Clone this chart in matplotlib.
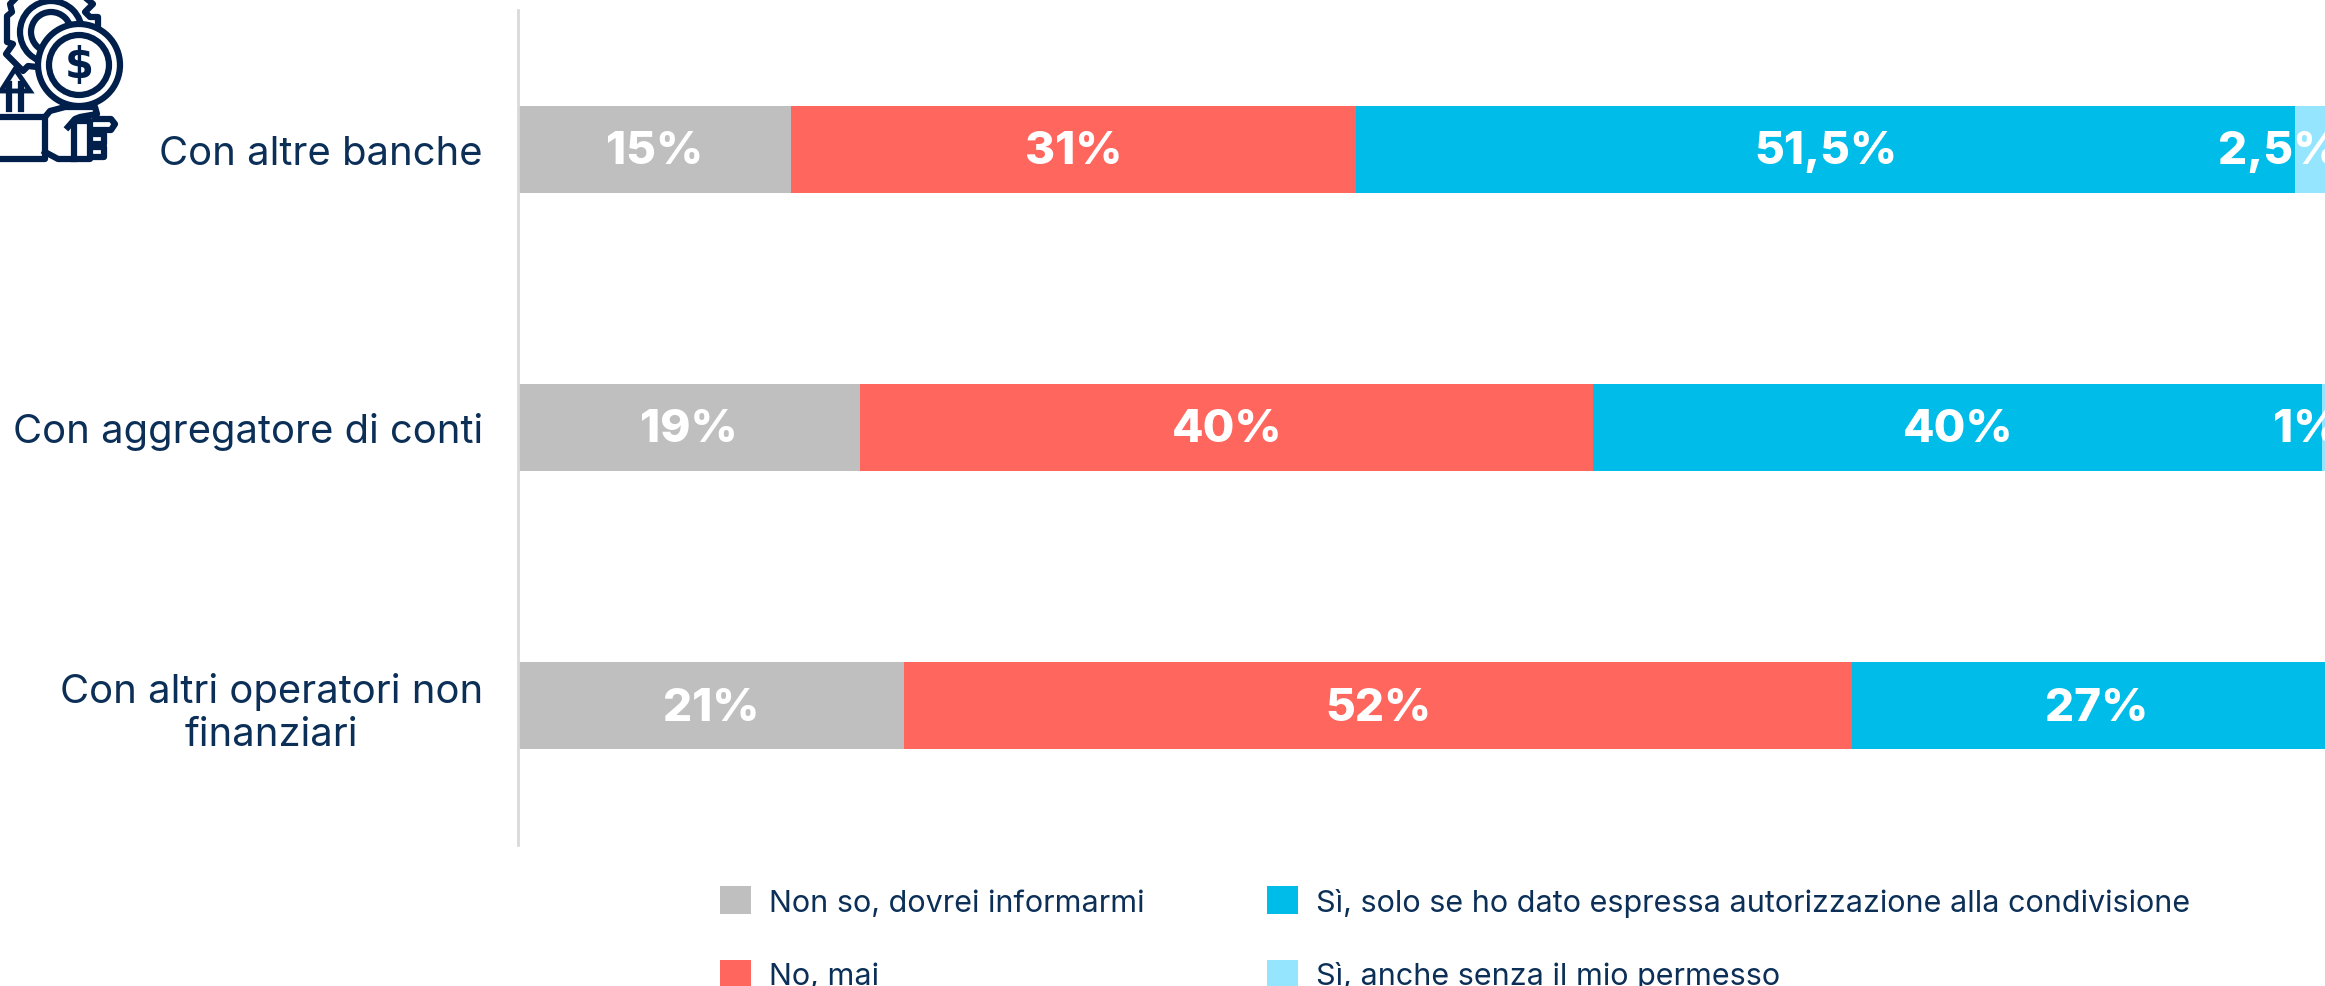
import matplotlib
matplotlib.use('Agg')
import matplotlib.pyplot as plt
from matplotlib.patches import Circle, Polygon

plt.rcParams['font.family'] = ['Inter', 'DejaVu Sans']

# Data
categories = ['Con altre banche', 'Con aggregatore di conti', 'Con altri operatori non\nfinanziari']
series_names = ['Non so, dovrei informarmi', 'No, mai',
                'Sì, solo se ho dato espressa autorizzazione alla condivisione',
                'Sì, anche senza il mio permesso']
non_so = [15, 18.8, 21.2]
no_mai = [31, 40.2, 52]
si_auth = [51.5, 40, 26.8]
si_senza = [2.5, 1, 0]
labels = [['15%', '31%', '51,5%', '2,5%'],
          ['19%', '40%', '40%', '1%'],
          ['21%', '52%', '27%', '']]
colors = ['#BFBFBF', '#FF665E', '#00BCE8', '#96E5FF']

navy = '#0B2F57'
icon_col = '#001F4B'
W, H = 2325, 987

fig = plt.figure(figsize=(W / 100, H / 100), dpi=100)
ax = fig.add_axes([517.5 / W, 1 - 846 / H, (W - 517.5) / W, (846 - 11) / H])

# Stacked bars, the last part runs off the right edge as in the original
left = [0, 0, 0]
handles = []
for name, vals, col in zip(series_names, [non_so, no_mai, si_auth, si_senza], colors):
    h = ax.barh(range(3), vals, left=left, height=0.312, color=col, label=name)
    handles.append(h)
    left = [a + b for a, b in zip(left, vals)]

starts = [0, 0, 0]
for j, vals in enumerate([non_so, no_mai, si_auth, si_senza]):
    for i, v in enumerate(vals):
        if labels[i][j]:
            if j == 3:
                ax.text(100, i - 0.01, labels[i][j], ha='right', va='center_baseline', color='white',
                        fontsize=33, fontweight='heavy', clip_on=True)
            else:
                ax.text(starts[i] + v / 2, i - 0.01, labels[i][j], ha='center', va='center_baseline',
                        color='white', fontsize=33, fontweight='heavy')
        starts[i] += v

ax.set_xlim(0, 99.15)
ax.set_ylim(2.5, -0.5)
ax.set_xticks([])
ax.set_yticks(range(3))
ax.set_yticklabels(categories, fontsize=28.8, color=navy, multialignment='center', linespacing=1.2)
ax.tick_params(axis='y', length=0, pad=25)
for s in ['top', 'right', 'bottom']:
    ax.spines[s].set_visible(False)
ax.spines['left'].set_color('#D9D9D9')
ax.spines['left'].set_linewidth(2)

fig.legend(handles=handles, ncol=2, frameon=False, loc='upper left',
           bbox_to_anchor=(696 / W, 1 - 863 / H), fontsize=22, labelcolor=navy,
           handlelength=1.0, handleheight=1.0, handletextpad=0.6,
           columnspacing=4.0, labelspacing=1.43, borderpad=0.3)

# Icon, drawn in pixel coordinates
ic = fig.add_axes([0, 0, 1, 1], facecolor='none')
ic.set_xlim(0, W)
ic.set_ylim(H, 0)
ic.axis('off')
lw = 4.5
gear_left = [(15, 0), (10, 5), (12, 13), (7, 17), (7, 43), (13, 45), (6, 55), (23, 72), (28, 67), (37, 68)]
gear_right = [(87, 0), (93, 5), (85, 13), (90, 18), (98, 18), (98, 28)]
for pts in [gear_left, gear_right]:
    ic.plot([p[0] for p in pts], [p[1] for p in pts], color=icon_col, lw=lw)
ic.add_patch(Circle((51, 33), 31, fill=False, ec=icon_col, lw=lw))
ic.add_patch(Circle((51, 33), 20, fill=False, ec=icon_col, lw=lw))
ic.add_patch(Circle((79, 66), 41, fc='white', ec=icon_col, lw=lw))
ic.add_patch(Circle((79, 66), 30, fill=False, ec=icon_col, lw=lw))
ic.text(79, 66, '$', ha='center', va='center', fontsize=30, fontweight='heavy', color=icon_col,
        family='DejaVu Sans', parse_math=False)
hand = [[(0, 118), (45, 118), (45, 160), (0, 160)],
        [(45, 118), (50, 112), (65, 108), (95, 108), (97, 115), (80, 118), (75, 120), (68, 128)],
        [(45, 153), (58, 160), (90, 160), (90, 122), (75, 122)],
        [(74, 126), (74, 160)],
        [(95, 120), (111, 120), (115, 125), (111, 131), (92, 131)],
        [(92, 135), (104, 135), (104, 145), (92, 145)],
        [(92, 148), (104, 148), (104, 158), (92, 158)]]
for pts in hand:
    ic.plot([p[0] for p in pts], [p[1] for p in pts], color=icon_col, lw=lw, solid_joinstyle='round')
ic.add_patch(Polygon([(15, 70), (30, 92), (1, 92)], closed=True, fc='white', ec=icon_col, lw=3.5))
ic.plot([9, 9], [85, 110], color=icon_col, lw=lw)
ic.plot([21, 21], [85, 110], color=icon_col, lw=lw)

fig.savefig('out.png', dpi=100)
